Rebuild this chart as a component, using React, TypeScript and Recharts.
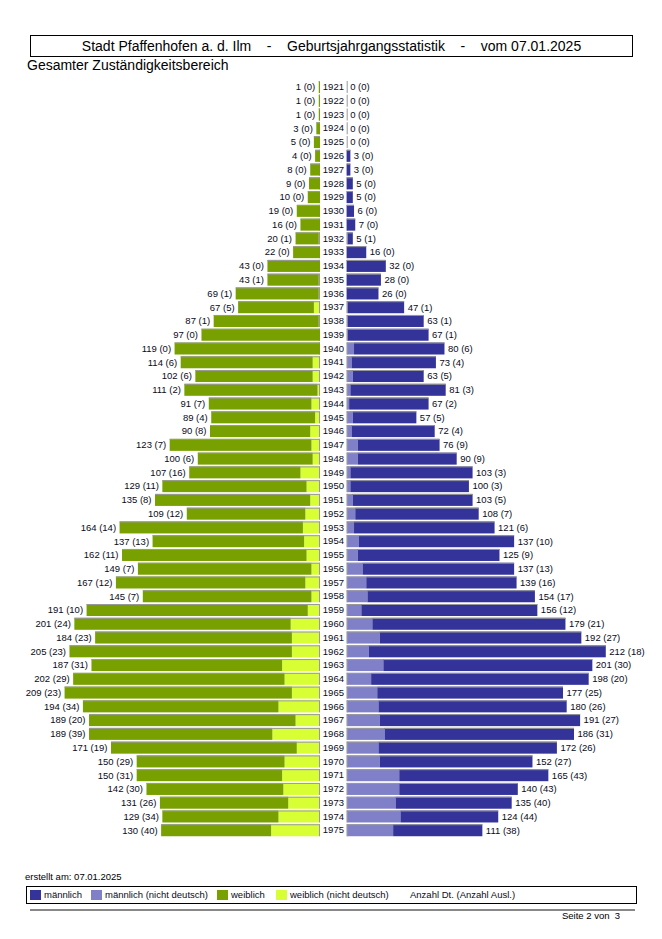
import React from "react";
import { BarChart, Bar, XAxis, YAxis, LabelList } from "recharts";

const years = [
  "1921", "1922", "1923", "1924", "1925", "1926", "1927", "1928", "1929", "1930",
  "1931", "1932", "1933", "1934", "1935", "1936", "1937", "1938", "1939", "1940",
  "1941", "1942", "1943", "1944", "1945", "1946", "1947", "1948", "1949", "1950",
  "1951", "1952", "1953", "1954", "1955", "1956", "1957", "1958", "1959", "1960",
  "1961", "1962", "1963", "1964", "1965", "1966", "1967", "1968", "1969", "1970",
  "1971", "1972", "1973", "1974", "1975",
];

// total count per birth year, and the non-German part of it
const femaleTotal = [
  1, 1, 1, 3, 5, 4, 8, 9, 10, 19,
  16, 20, 22, 43, 43, 69, 67, 87, 97, 119,
  114, 102, 111, 91, 89, 90, 123, 100, 107, 129,
  135, 109, 164, 137, 162, 149, 167, 145, 191, 201,
  184, 205, 187, 202, 209, 194, 189, 189, 171, 150,
  150, 142, 131, 129, 130,
];
const femaleForeign = [
  0, 0, 0, 0, 0, 0, 0, 0, 0, 0,
  0, 1, 0, 0, 1, 1, 5, 1, 0, 0,
  6, 6, 2, 7, 4, 8, 7, 6, 16, 11,
  8, 12, 14, 13, 11, 7, 12, 7, 10, 24,
  23, 23, 31, 29, 23, 34, 20, 39, 19, 29,
  31, 30, 26, 34, 40,
];
const maleTotal = [
  0, 0, 0, 0, 0, 3, 3, 5, 5, 6,
  7, 5, 16, 32, 28, 26, 47, 63, 67, 80,
  73, 63, 81, 67, 57, 72, 76, 90, 103, 100,
  103, 108, 121, 137, 125, 137, 139, 154, 156, 179,
  192, 212, 201, 198, 177, 180, 191, 186, 172, 152,
  165, 140, 135, 124, 111,
];
const maleForeign = [
  0, 0, 0, 0, 0, 0, 0, 0, 0, 0,
  0, 1, 0, 0, 0, 0, 1, 1, 1, 6,
  4, 5, 3, 2, 5, 4, 9, 9, 3, 3,
  5, 7, 6, 10, 9, 13, 16, 17, 12, 21,
  27, 18, 30, 20, 25, 26, 27, 31, 26, 27,
  43, 43, 40, 44, 38,
];

const rows = years.map((year, i) => ({
  year,
  fForeign: femaleForeign[i],
  fGerman: femaleTotal[i] - femaleForeign[i],
  fLabel: `${femaleTotal[i]} (${femaleForeign[i]})`,
  mForeign: maleForeign[i],
  mGerman: maleTotal[i] - maleForeign[i],
  mLabel: `${maleTotal[i]} (${maleForeign[i]})`,
}));

const MALE = "#333399";
const MALE_FOREIGN = "#8080c8";
const FEMALE = "#77a000";
const FEMALE_FOREIGN = "#d8ff33";
const EDGE = "#999999";
const FONT = "'Liberation Sans', Arial, sans-serif";

const CHART_H = 840;
const MARGIN_TOP = 80;
const MARGIN_BOTTOM = 3;

// bar with a grey top edge; the segment next to the axis also gets a grey axis tick
function barShape(fill: string, axisEdge: boolean, axisOnRight: boolean) {
  return (props: any) => {
    const { x, y, width, height } = props;
    if (x == null || y == null) return <g />;
    const left = Math.min(x, x + width);
    const w = Math.abs(width);
    const axisX = axisOnRight ? Math.max(x, x + width) : left;
    return (
      <g>
        {w > 0 && <rect x={left} y={y} width={w} height={height} fill={fill} />}
        {w > 0 && (
          <line x1={left} x2={left + w} y1={y + 0.5} y2={y + 0.5} stroke={EDGE} strokeWidth={1} />
        )}
        {axisEdge && (
          <line
            x1={axisX + (axisOnRight ? -0.5 : 0.5)}
            x2={axisX + (axisOnRight ? -0.5 : 0.5)}
            y1={y}
            y2={y + height}
            stroke={EDGE}
            strokeWidth={1}
          />
        )}
      </g>
    );
  };
}

function endLabel(side: "left" | "right") {
  return (props: any) => {
    const vb = props.viewBox ?? props;
    const { x, y, width, height } = vb;
    if (x == null || y == null) return null;
    const tx = side === "left" ? Math.min(x, x + width) - 3.5 : Math.max(x, x + width) + 3.5;
    return (
      <text
        x={tx}
        y={y + height / 2}
        dy="0.35em"
        textAnchor={side === "left" ? "end" : "start"}
        fontSize={9.5}
        fontFamily={FONT}
        fill="#0a0a20"
      >
        {props.value}
      </text>
    );
  };
}

const YearTick = (props: any) => {
  const { y, payload } = props;
  return (
    <text x={13.4} y={y} dy="0.35em" textAnchor="middle" fontSize={9.5} fontFamily={FONT} fill="#0a0a20">
      {payload.value}
    </text>
  );
};

const legendItems = [
  { label: "männlich", color: MALE, x: 30 },
  { label: "männlich (nicht deutsch)", color: MALE_FOREIGN, x: 91 },
  { label: "weiblich", color: FEMALE, x: 217 },
  { label: "weiblich (nicht deutsch)", color: FEMALE_FOREIGN, x: 276 },
];

export default function App() {
  return (
    <div
      style={{
        position: "absolute",
        left: 0,
        top: 0,
        width: 662,
        height: 939,
        background: "#fff",
        fontFamily: FONT,
        color: "#000",
      }}
    >
      <div
        style={{
          position: "absolute",
          left: 30,
          top: 35,
          width: 601,
          height: 20,
          border: "1px solid #000",
          fontSize: 14,
          lineHeight: "20px",
          textAlign: "center",
          whiteSpace: "pre",
        }}
      >
        {"Stadt Pfaffenhofen a. d. Ilm    -    Geburtsjahrgangsstatistik    -    vom 07.01.2025"}
      </div>
      <div style={{ position: "absolute", left: 27, top: 57, fontSize: 14, lineHeight: "16px" }}>
        Gesamter Zuständigkeitsbereich
      </div>

      {/* weiblich, growing to the left */}
      <div style={{ position: "absolute", left: 0, top: 0 }}>
        <BarChart
          width={320}
          height={CHART_H}
          data={rows}
          layout="vertical"
          barSize={12}
          margin={{ top: MARGIN_TOP, bottom: MARGIN_BOTTOM, left: 26.7, right: 0 }}
        >
          <XAxis type="number" domain={[0, 240]} reversed hide />
          <YAxis type="category" dataKey="year" hide />
          <Bar
            dataKey="fForeign"
            stackId="f"
            isAnimationActive={false}
            shape={barShape(FEMALE_FOREIGN, true, true)}
          />
          <Bar
            dataKey="fGerman"
            stackId="f"
            isAnimationActive={false}
            shape={barShape(FEMALE, false, true)}
          >
            <LabelList dataKey="fLabel" content={endLabel("left")} />
          </Bar>
        </BarChart>
      </div>

      {/* männlich, growing to the right, years in between */}
      <div style={{ position: "absolute", left: 320, top: 0 }}>
        <BarChart
          width={342}
          height={CHART_H}
          data={rows}
          layout="vertical"
          barSize={12}
          margin={{ top: MARGIN_TOP, bottom: MARGIN_BOTTOM, left: 0, right: 22 }}
        >
          <XAxis type="number" domain={[0, 240]} hide />
          <YAxis
            type="category"
            dataKey="year"
            width={26.7}
            axisLine={false}
            tickLine={false}
            interval={0}
            tick={<YearTick />}
          />
          <Bar
            dataKey="mForeign"
            stackId="m"
            isAnimationActive={false}
            shape={barShape(MALE_FOREIGN, true, false)}
          />
          <Bar
            dataKey="mGerman"
            stackId="m"
            isAnimationActive={false}
            shape={barShape(MALE, false, false)}
          >
            <LabelList dataKey="mLabel" content={endLabel("right")} />
          </Bar>
        </BarChart>
      </div>

      <div style={{ position: "absolute", left: 25, top: 871, fontSize: 9.5, lineHeight: "12px" }}>
        erstellt am: 07.01.2025
      </div>
      <div
        style={{
          position: "absolute",
          left: 26,
          top: 886,
          width: 609,
          height: 16,
          border: "1.5px solid #000",
        }}
      />
      {legendItems.map((it) => (
        <React.Fragment key={it.label}>
          <div
            style={{
              position: "absolute",
              left: it.x,
              top: 890,
              width: 11,
              height: 10,
              background: it.color,
            }}
          />
          <div
            style={{
              position: "absolute",
              left: it.x + 14,
              top: 889,
              fontSize: 9.5,
              lineHeight: "12px",
              color: "#0a0a20",
            }}
          >
            {it.label}
          </div>
        </React.Fragment>
      ))}
      <div style={{ position: "absolute", left: 410, top: 889, fontSize: 9.5, lineHeight: "12px", color: "#0a0a20" }}>
        Anzahl Dt. (Anzahl Ausl.)
      </div>
      <div style={{ position: "absolute", left: 30, top: 909, width: 605, height: 1.5, background: "#888" }} />
      <div style={{ position: "absolute", left: 562, top: 910, fontSize: 9.5, lineHeight: "12px", whiteSpace: "pre" }}>
        {"Seite 2 von  3"}
      </div>
    </div>
  );
}
